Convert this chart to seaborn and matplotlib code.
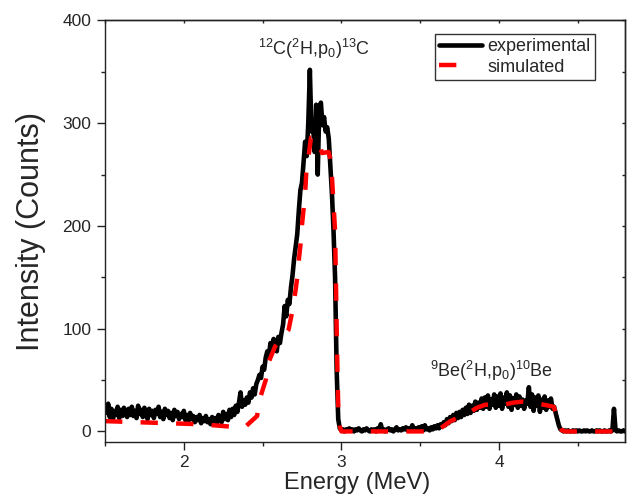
import numpy as np
import pandas as pd
import seaborn as sns
import matplotlib
matplotlib.use("Agg")
import matplotlib.pyplot as plt
from matplotlib.ticker import MultipleLocator

# Measured spectrum: channels from 1.50 MeV in 0.01 MeV steps
E_START = 1.50
E_STEP = 0.01
exp_counts = [
    25, 18, 27, 14, 22, 12, 20, 16, 24, 13,      # 1.50
    21, 15, 23, 17, 14, 22, 16, 24, 15, 20,      # 1.60
    13, 25, 17, 21, 14, 23, 18, 12, 22, 16,      # 1.70
    20, 13, 21, 17, 24, 14, 19, 12, 22, 16,      # 1.80
    20, 13, 18, 11, 21, 15, 19, 12, 17, 14,      # 1.90
    20, 11, 16, 10, 18, 12, 15, 9, 14, 11,       # 2.00
    16, 8, 13, 10, 15, 9, 12, 7, 14, 10,         # 2.10
    13, 8, 16, 11, 9, 19, 12, 17, 11, 21,        # 2.20
    14, 22, 16, 25, 19, 28, 38, 24, 30, 26,      # 2.30
    33, 28, 38, 33, 42, 36, 46, 50, 55, 52,      # 2.40
    63, 60, 72, 78, 74, 86, 80, 90, 83, 78,      # 2.50
    92, 86, 96, 104, 122, 112, 128, 124, 140, 152,   # 2.60
    168, 180, 192, 215, 235, 242, 262, 282, 268, 300,  # 2.70
    352, 292, 300, 272, 318, 250, 315, 320, 298, 306,  # 2.80
    292, 296, 285, 258, 232, 196, 150, 60, 12, 3,      # 2.90
    1, 2, 0, 2, 1, 3, 1, 2, 0, 2,                # 3.00
    1, 3, 1, 0, 2, 1, 3, 1, 0, 2,                # 3.10
    1, 2, 0, 3, 1, 7, 1, 2, 0, 2,                # 3.20
    3, 1, 2, 0, 2, 4, 1, 2, 1, 3,                # 3.30
    2, 4, 1, 3, 1, 6, 2, 3, 1, 4,                # 3.40
    2, 5, 1, 6, 2, 3, 1, 4, 2, 5,                # 3.50
    3, 6, 3, 7, 5, 9, 6, 12, 8, 14,              # 3.60
    10, 16, 11, 18, 13, 19, 14, 21, 16, 23,      # 3.70
    17, 26, 18, 25, 20, 29, 21, 28, 23, 32,      # 3.80
    22, 33, 24, 35, 22, 31, 26, 36, 23, 34,      # 3.90
    25, 37, 22, 33, 27, 38, 24, 35, 21, 32,      # 4.00
    26, 36, 23, 34, 25, 31, 22, 30, 27, 43,      # 4.10
    24, 36, 20, 33, 25, 35, 19, 31, 23, 34,      # 4.20
    21, 30, 24, 32, 22, 24, 18, 12, 6, 2,        # 4.30
    1, 0, 1, 0, 1, 0, 0, 1, 0, 1,                # 4.40
    0, 1, 0, 0, 1, 0, 1, 0, 0, 1,                # 4.50
    0, 0, 1, 0, 1, 0, 0, 1, 0, 0,                # 4.60
    1, 0, 1, 22, 1, 0, 1, 0, 0, 1,               # 4.70
    0,                                           # 4.80
]
exp_energy = np.round(E_START + E_STEP * np.arange(len(exp_counts)), 2)

# Simulated spectrum
sim_energy = [1.50, 1.70, 1.90, 2.10, 2.27, 2.33, 2.39, 2.465, 2.485, 2.52,
              2.54, 2.58, 2.62, 2.665, 2.69, 2.71, 2.72, 2.73, 2.74, 2.75,
              2.76, 2.77, 2.777, 2.792, 2.807, 2.845, 2.877, 2.919, 2.935, 2.945,
              2.96, 2.965, 2.97, 2.975, 2.98, 2.99, 3.00, 3.58, 3.62, 3.692,
              3.808, 3.86, 3.914, 4.031, 4.09, 4.147, 4.253, 4.348, 4.36, 4.38,
              4.40, 4.42, 4.80]
sim_counts = [10, 9, 8, 7, 5, 4, 4.5, 15, 33, 50,
              68, 83, 90, 99, 118, 138, 150, 167, 181, 201,
              216, 232, 251, 268, 286, 286, 271, 272, 262, 235,
              195, 150, 100, 60, 25, 5, 0, 0, 2, 10,
              18, 23, 26, 26, 28, 29, 27, 24, 18, 6.5,
              1, 0, 0]

x_ticks = [2, 3, 4]
y_ticks = [0, 100, 200, 300, 400]

exp_df = pd.DataFrame({"Energy": exp_energy, "Counts": exp_counts})
sim_df = pd.DataFrame({"Energy": sim_energy, "Counts": sim_counts})

sns.set_theme(style="ticks")
plt.rcParams["font.family"] = ["Liberation Sans", "DejaVu Sans"]
plt.rcParams["mathtext.fontset"] = "custom"
plt.rcParams["mathtext.rm"] = "Liberation Sans"
plt.rcParams["mathtext.it"] = "Liberation Sans"
plt.rcParams["mathtext.bf"] = "Liberation Sans:bold"

fig = plt.figure(figsize=(6.27, 4.96), dpi=100)
ax = fig.add_axes([0.1675, 0.1095, 0.8293, 0.8492])

sns.lineplot(data=exp_df, x="Energy", y="Counts", ax=ax, color="black",
             lw=3.3, label="experimental", estimator=None, sort=False)
sns.lineplot(data=sim_df, x="Energy", y="Counts", ax=ax, color="#ff0000",
             lw=3.2, label="simulated", estimator=None, sort=False)
ax.lines[-1].set_dashes((3.9, 4.1))
ax.lines[-1].set_dash_capstyle("butt")

ax.set_xlim(1.5, 4.8)
ax.set_ylim(-10, 400)
ax.set_xticks(x_ticks)
ax.set_yticks(y_ticks)
ax.xaxis.set_minor_locator(MultipleLocator(0.5))
ax.yaxis.set_minor_locator(MultipleLocator(50))
ax.tick_params(which="major", direction="out", length=5.8, width=1,
               labelsize=12.5, pad=4, color="#222222")
ax.tick_params(which="minor", direction="out", length=3, width=1,
               color="#222222")
for sp in ax.spines.values():
    sp.set_linewidth(1)
    sp.set_color("#222222")

# inward ticks on the opposite edges
top = ax.secondary_xaxis("top")
top.xaxis.set_major_locator(MultipleLocator(1))
top.xaxis.set_minor_locator(MultipleLocator(0.5))
top.tick_params(which="both", direction="in", length=2.5, width=1,
                labeltop=False, color="#222222")
right = ax.secondary_yaxis("right")
right.yaxis.set_major_locator(MultipleLocator(100))
right.yaxis.set_minor_locator(MultipleLocator(50))
right.tick_params(which="both", direction="in", length=2.5, width=1,
                  labelright=False, color="#222222")
for sec in (top, right):
    for sp in sec.spines.values():
        sp.set_linewidth(1)
        sp.set_color("#222222")

ax.set_xlabel("Energy (MeV)", fontsize=17, labelpad=1)
ax.xaxis.set_label_coords(0.485, -0.072)
ax.set_ylabel("Intensity (Counts)", fontsize=22, labelpad=12)

ax.text(2.825, 366, r"$^{12}$C($^{2}$H,p$_{0}$)$^{13}$C", ha="center",
        va="baseline", fontsize=13)
ax.text(3.955, 53, r"$^{9}$Be($^{2}$H,p$_{0}$)$^{10}$Be", ha="center",
        va="baseline", fontsize=13)

leg = ax.legend(loc="upper right", bbox_to_anchor=(0.942, 0.969),
                frameon=True, fancybox=False, edgecolor="black", fontsize=13,
                handlelength=2.35, handletextpad=0.3, borderpad=0.25,
                labelspacing=0.2, borderaxespad=0)
leg.get_frame().set_linewidth(1)
leg.get_lines()[1].set_dashes((3.9, 20))

fig.savefig("out.png", dpi=100)
